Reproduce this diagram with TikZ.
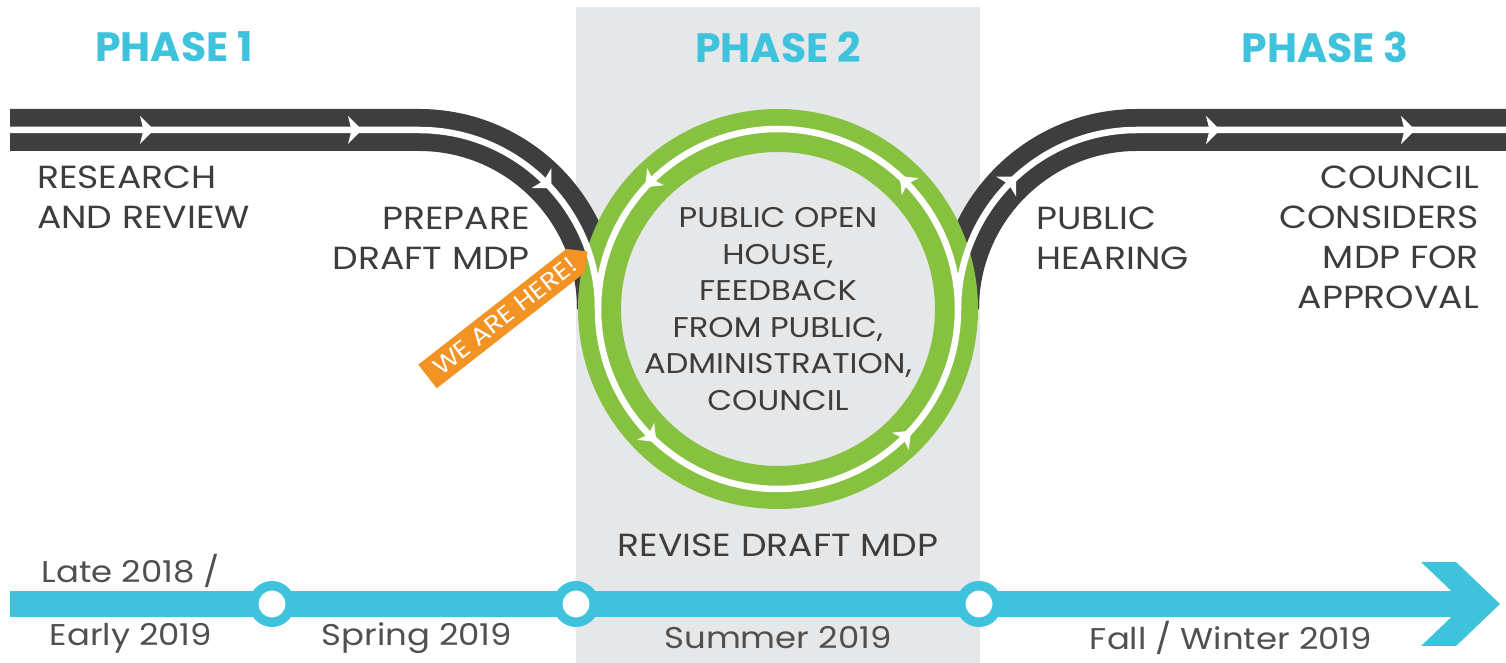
\documentclass[tikz,border=0pt]{standalone}
\usepackage{fontspec}
\setmainfont{Poppins}[FakeStretch=1.13]
\newfontfamily\phasefont{Poppins}[FakeStretch=1.0]
\definecolor{tlcyan}{HTML}{3FC2DC}
\definecolor{ringgreen}{HTML}{86C240}
\definecolor{trackdark}{HTML}{3E3E3E}
\definecolor{bggray}{HTML}{E6E7E9}
\definecolor{tagorange}{HTML}{F39323}
\definecolor{txtgray}{HTML}{3D3D3D}
\tikzset{
  warrow/.pic={\fill[white] (8,0) -- (-6,14) -- (-2.5,0) -- (-6,-14) -- cycle;},
  rarrow/.pic={\fill[white] (8,0) -- (-7,12) -- (-3,0) -- (-7,-12) -- cycle;},
  trackband/.style={trackdark, line width=42},
  trackline/.style={white, line width=6.5},
  phasetitle/.style={text=tlcyan, font=\phasefont\bfseries\fontsize{41}{50}\selectfont, inner sep=0},
  steplabel/.style={text=txtgray, font=\fontsize{32}{40}\selectfont, inner sep=0},
  ringlabel/.style={text=txtgray, font=\fontsize{28.5}{36.6}\selectfont, align=center, inner sep=0},
  datelabel/.style={text=txtgray!90, font=\fontsize{30}{36}\selectfont, inner sep=0},
  tlmark/.style={draw=tlcyan, line width=9.5, fill=white},
}
\begin{document}
\begin{tikzpicture}[x=1pt,y=1pt]
\useasboundingbox (0,0) rectangle (1506,663);
% phase 2 background
\fill[bggray] (576,0) rectangle (980,656);
% dark tracks
\draw[trackband] (10,533) -- (419,533) arc[start angle=90,end angle=0,radius=179];
\draw[trackband] (958,354) arc[start angle=180,end angle=90,radius=179] -- (1506,533);
% green ring
\draw[ringgreen, line width=43] (778,354) circle[radius=178.5];
\draw[white, line width=6.5] (778,354) circle[radius=180];
% white lines of tracks
\draw[trackline] (10,533) -- (419,533) arc[start angle=90,end angle=0,radius=179];
\draw[trackline] (958,354) arc[start angle=180,end angle=90,radius=179] -- (1506,533);
% arrowheads on tracks
\pic at (146,533) {warrow};
\pic at (354,533) {warrow};
\pic[rotate=-45] at (545.6,480.6) {warrow};
\pic[rotate=45] at (1010.4,480.6) {warrow};
\pic at (1212,533) {warrow};
\pic at (1407,533) {warrow};
% arrowheads on ring
\pic[rotate=135] at (905.3,481.3) {rarrow};
\pic[rotate=225] at (650.7,481.3) {rarrow};
\pic[rotate=315] at (650.7,226.7) {rarrow};
\pic[rotate=45] at (905.3,226.7) {rarrow};
% phase titles
\node[phasetitle] (p1) at (174,616) {PHASE 1};
\node[phasetitle] (p2) at (778,616) {PHASE 2};
\node[phasetitle] (p3) at (1325,616) {PHASE 3};
% step labels
\node[steplabel, anchor=west, align=left] (research) at (37,466) {RESEARCH\\AND REVIEW};
\node[steplabel, anchor=east, align=right] (prepare) at (530,425) {PREPARE\\DRAFT MDP};
\node[ringlabel] (open) at (778,354) {PUBLIC OPEN\\HOUSE,\\FEEDBACK\\FROM PUBLIC,\\ADMINISTRATION,\\COUNCIL};
\node[steplabel, anchor=west, align=left] (hearing) at (1036,425) {PUBLIC\\HEARING};
\node[steplabel, anchor=east, align=right] (council) at (1479,426) {COUNCIL\\CONSIDERS\\MDP FOR\\APPROVAL};
\node[steplabel] (revise) at (778,118) {REVISE DRAFT MDP};
% we are here tag
\begin{scope}[shift={(427.5,286.5)}, rotate=38]
  \fill[tagorange] (0,-15) -- (188,-15) -- (203,0) -- (188,15) -- (0,15) -- cycle;
  \node[transform shape, text=white, font=\fontsize{24}{26}\selectfont, inner sep=0] (here) at (98,0) {WE ARE HERE!};
\end{scope}
% timeline
\draw[tlcyan, line width=26] (10,59) -- (1466,59);
\fill[tlcyan] (1421,101) -- (1456,101) -- (1500,59) -- (1456,17) -- (1421,17) -- (1465,59) -- cycle;
\draw[tlmark] (272,59) circle[radius=18.25];
\draw[tlmark] (576,59) circle[radius=18.25];
\draw[tlmark] (979,59) circle[radius=18.25];
\node[datelabel] (late) at (131,92) {Late 2018 /};
\node[datelabel] (early) at (131,25) {Early 2019};
\node[datelabel] (spring) at (417,25) {Spring 2019};
\node[datelabel] (summer) at (778,25) {Summer 2019};
\node[datelabel] (fall) at (1231,25) {Fall / Winter 2019};
\end{tikzpicture}
\end{document}
